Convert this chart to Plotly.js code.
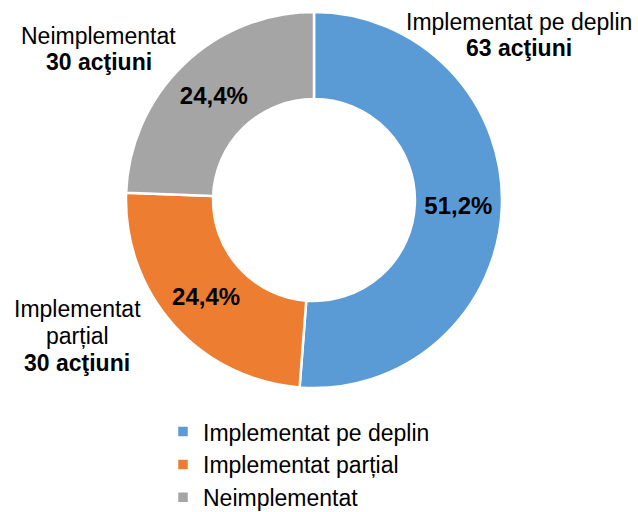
<!DOCTYPE html>
<html>
<head>
<meta charset="utf-8">
<script src="https://cdn.plot.ly/plotly-3.0.1.min.js"></script>
<style>html,body{margin:0;padding:0;background:#fff;}#chart{width:638px;height:512px;}</style>
</head>
<body>
<div id="chart"></div>
<script>
const categories = ["Implementat pe deplin", "Implementat parțial", "Neimplementat"];
const counts = [63, 30, 30];
const sliceColors = ["#5B9BD5", "#ED7D31", "#A5A5A5"];
const outsideLabelLines = [["Implementat pe deplin"], ["Implementat", "parțial"], ["Neimplementat"]];
const countUnit = "acţiuni";

const total = counts.reduce((a, b) => a + b, 0);
const pctText = counts.map(v => (v / total * 100).toFixed(1).replace(".", ",") + "%");

const fontFam = "Liberation Sans, Arial, sans-serif";
const W = 638, H = 512;

const trace = {
  type: "pie",
  labels: categories,
  values: counts,
  text: pctText,
  texttemplate: "<b>%{text}</b>",
  textposition: "inside",
  insidetextorientation: "horizontal",
  textfont: {family: fontFam, size: 24, color: "#000"},
  hole: 0.537,
  sort: false,
  direction: "clockwise",
  rotation: 0,
  marker: {colors: sliceColors, line: {color: "#fff", width: 2.5}},
  domain: {x: [0.1975, 0.7868], y: [0.2422, 0.9766]},
  hoverinfo: "none"
};

// label block placement (centre x, first-line centre y, line step) in pixels
const labelBlocks = [
  {cx: 519, y0: 21.5, step: 26},
  {cx: 77, y0: 309, step: 27},
  {cx: 98.5, y0: 36, step: 26}
];

const annotations = [];
categories.forEach((c, i) => {
  const lines = outsideLabelLines[i].slice();
  lines.push("<b>" + counts[i] + " " + countUnit + "</b>");
  lines.forEach((ln, j) => {
    annotations.push({
      xref: "paper", yref: "paper",
      x: labelBlocks[i].cx / W,
      y: 1 - (labelBlocks[i].y0 + j * labelBlocks[i].step) / H,
      xanchor: "center", yanchor: "middle",
      showarrow: false,
      text: ln,
      font: {family: fontFam, size: 23, color: "#000"}
    });
  });
});

const layout = {
  width: W, height: H,
  margin: {l: 0, r: 0, t: 0, b: 0, autoexpand: false},
  paper_bgcolor: "#fff",
  showlegend: true,
  legend: {
    orientation: "v",
    x: 163 / W, xanchor: "left",
    y: 0.199, yanchor: "top",
    font: {family: fontFam, size: 23, color: "#000"},
    itemwidth: 30,
    bgcolor: "rgba(0,0,0,0)"
  },
  annotations: annotations
};

Plotly.newPlot("chart", [trace], layout, {staticPlot: true});
</script>
</body>
</html>
